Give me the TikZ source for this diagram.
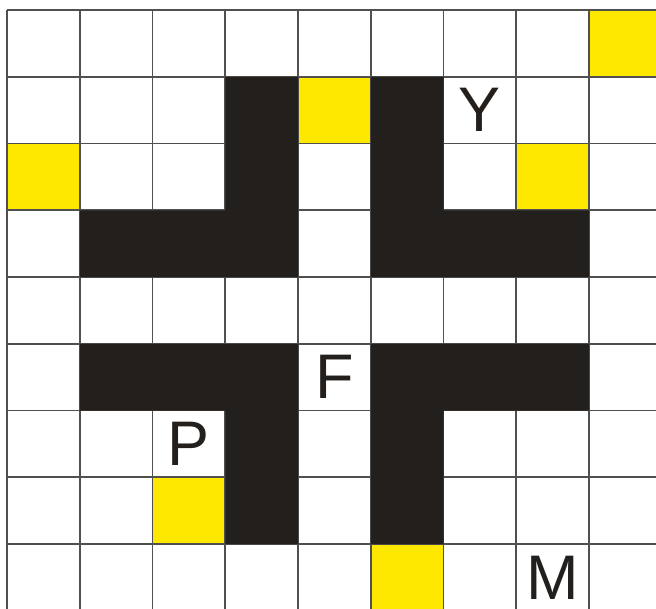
\documentclass[tikz,border=0pt]{standalone}
\usepackage{fontspec}
\setmainfont{Liberation Sans}
\definecolor{wall}{HTML}{231F1C}
\definecolor{spot}{HTML}{FFE800}
\definecolor{gridline}{HTML}{505050}
\tikzset{
    spotcell/.style={fill=spot},
    wallcell/.style={fill=wall},
    gridln/.style={draw=gridline, line width=1.6pt},
    letter/.style={font=\fontsize{63}{63}\selectfont, text=wall, inner sep=0pt},
}

\begin{document}
\begin{tikzpicture}[x=72.75pt, y=-66.75pt]

  \clip (-7pt,10pt) rectangle (649pt,-598pt);

  % yellow cells
  \foreach \c/\r in {8/0, 4/1, 0/2, 7/2, 2/7, 5/8}
    \fill[spotcell] (\c,\r) rectangle ++(1,1);

  % grid
  \foreach \i in {0,...,9}
    \draw[gridln] (\i,0) -- (\i,9);
  \foreach \j in {0,...,9}
    \draw[gridln] (0,\j) -- (9,\j);

  % the four black corners
  \fill[wallcell] (3,1) -- (4,1) -- (4,4) -- (1,4) -- (1,3) -- (3,3) -- cycle;
  \fill[wallcell] (5,1) -- (6,1) -- (6,3) -- (8,3) -- (8,4) -- (5,4) -- cycle;
  \fill[wallcell] (1,5) -- (4,5) -- (4,8) -- (3,8) -- (3,6) -- (1,6) -- cycle;
  \fill[wallcell] (5,5) -- (8,5) -- (8,6) -- (6,6) -- (6,8) -- (5,8) -- cycle;

  % letters
  \node[letter] (Y) at (6.5,1.5) {Y};
  \node[letter] (F) at (4.5,5.5) {F};
  \node[letter] (P) at (2.5,6.5) {P};
  \node[letter] (M) at (7.5,8.5) {M};

\end{tikzpicture}
\end{document}
